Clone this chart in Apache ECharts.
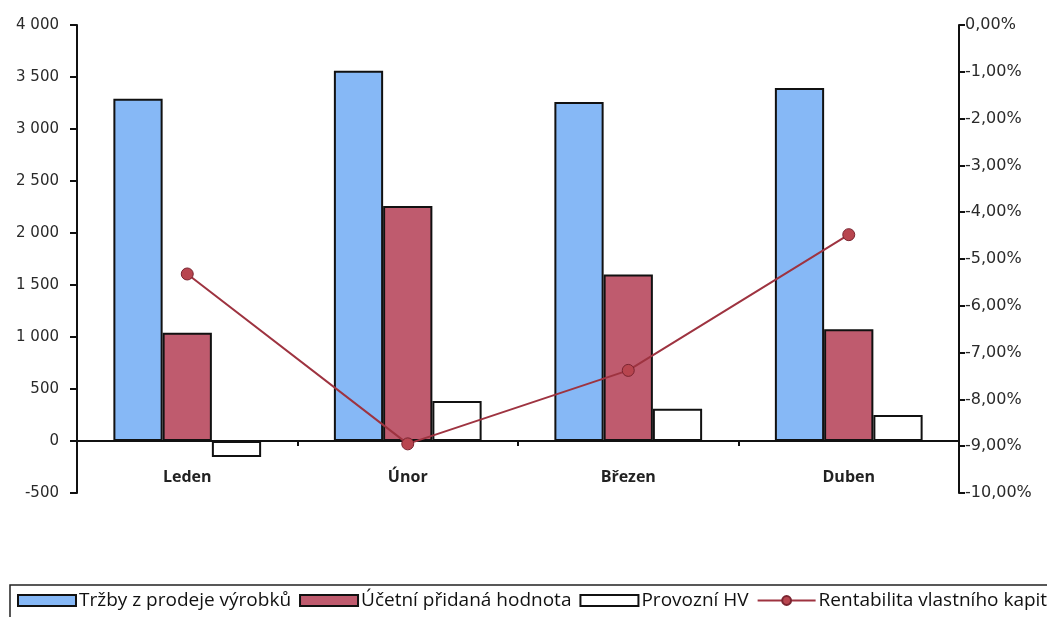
<!DOCTYPE html>
<html><head><meta charset="utf-8">
<script src="https://cdn.jsdelivr.net/npm/echarts@6/dist/echarts.min.js"></script>
<style>html,body{margin:0;padding:0;background:#fff}#c{width:1047px;height:617px}</style>
</head><body><div id="c"></div>
<script>
const categories = ['Leden', 'Únor', 'Březen', 'Duben'];
const trzby = [3290, 3560, 3260, 3395];
const pridana = [1040, 2260, 1600, 1075];
const provozniHV = [-155, 385, 310, 250];
const rentabilita = [-5.32, -8.95, -7.38, -4.48];
const seriesNames = ['Tržby z prodeje výrobků', 'Účetní přidaná hodnota', 'Provozní HV', 'Rentabilita vlastního kapitálu'];

const font = "'Open Sans', 'DejaVu Sans', sans-serif";
const axisFont = "'DejaVu Sans', sans-serif";
const chart = echarts.init(document.getElementById('c'));
chart.setOption({
  backgroundColor: '#fff',
  animation: false,
  textStyle: { fontFamily: font },
  grid: { left: 77, right: 88, top: 25, bottom: 124 },
  legend: {
    left: 10, top: 585, width: 1400,
    padding: [6, 6, 20, 7],
    borderColor: '#222', borderWidth: 1.5,
    itemWidth: 58, itemHeight: 11, itemGap: 8,
    textStyle: { fontSize: 19, color: '#111', fontFamily: font, padding: [0, 0, 0, -2] },
    data: [
      { name: seriesNames[0], icon: 'rect' },
      { name: seriesNames[1], icon: 'rect' },
      { name: seriesNames[2], icon: 'rect' },
      { name: seriesNames[3] }
    ]
  },
  xAxis: {
    type: 'category', data: categories,
    axisLine: { onZero: true, lineStyle: { color: '#111', width: 2 } },
    axisTick: { show: true, length: 5, lineStyle: { color: '#111', width: 2 } },
    axisLabel: { margin: -24, fontSize: 16, fontWeight: 'bold', color: '#222', fontFamily: font },
    splitLine: { show: false }
  },
  yAxis: [{
    type: 'value', min: -500, max: 4000, interval: 500,
    axisLine: { show: true, lineStyle: { color: '#111', width: 2 } },
    axisTick: { show: true, length: 7, lineStyle: { color: '#111', width: 2 } },
    axisLabel: { fontSize: 15, color: '#2a2a2a', margin: 18, fontFamily: axisFont,
      formatter: v => String(v).replace(/\B(?=(\d{3})+(?!\d))/g, ' ') },
    splitLine: { show: false }
  }, {
    type: 'value', min: -10, max: 0, interval: 1, position: 'right',
    axisLine: { show: true, lineStyle: { color: '#111', width: 2 } },
    axisTick: { show: true, length: 6, lineStyle: { color: '#111', width: 2 } },
    axisLabel: { fontSize: 16, color: '#2a2a2a', margin: 6, fontFamily: axisFont,
      formatter: v => v.toFixed(2).replace('.', ',') + '%' },
    splitLine: { show: false }
  }],
  series: [{
    name: seriesNames[0], type: 'bar', data: trzby,
    barGap: '0%', barCategoryGap: '33%',
    itemStyle: { color: '#86b8f6', borderColor: '#111', borderWidth: 2 }
  }, {
    name: seriesNames[1], type: 'bar', data: pridana,
    itemStyle: { color: '#bf5b6e', borderColor: '#111', borderWidth: 2 }
  }, {
    name: seriesNames[2], type: 'bar', data: provozniHV,
    itemStyle: { color: '#ffffff', borderColor: '#111', borderWidth: 2 }
  }, {
    name: seriesNames[3], type: 'line', yAxisIndex: 1, data: rentabilita,
    symbol: 'circle', symbolSize: 12, z: 5,
    lineStyle: { color: '#9e3340', width: 2 },
    itemStyle: { color: '#b8454f', borderColor: '#7a2430', borderWidth: 1 }
  }]
});
</script></body></html>
